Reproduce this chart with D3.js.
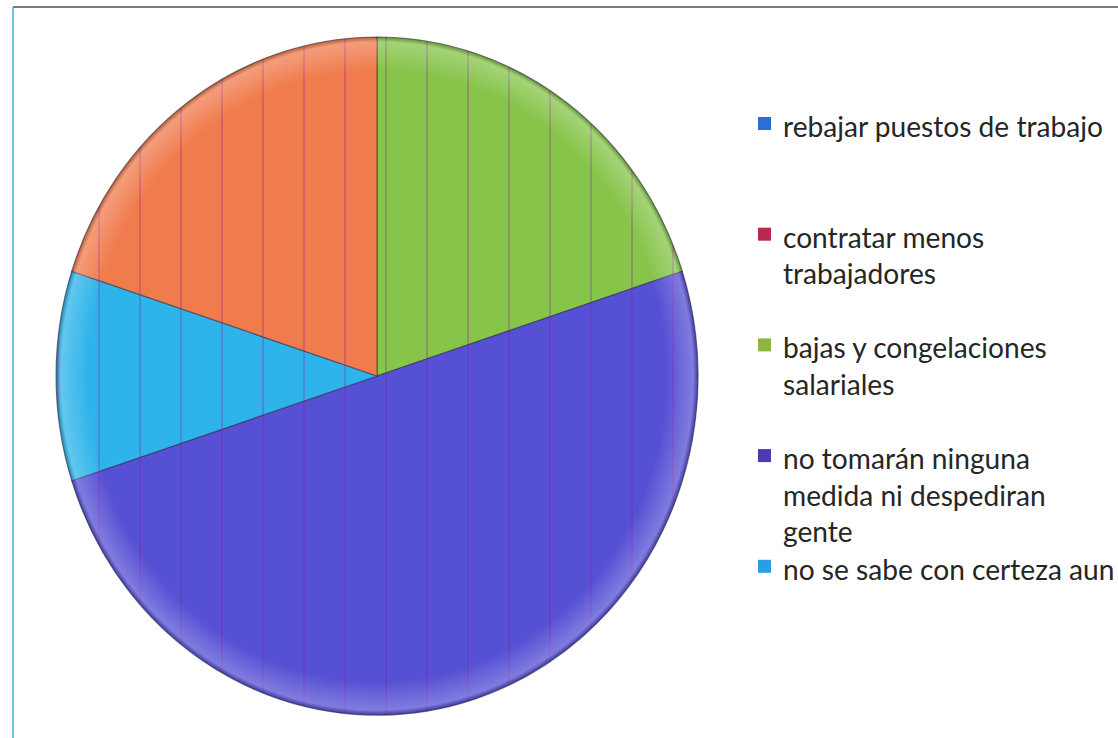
<!DOCTYPE html>
<html><head><meta charset="utf-8">
<script src="https://cdn.jsdelivr.net/npm/d3@7"></script>
<style>body{margin:0;background:#fff;overflow:hidden}</style>
</head><body>
<svg id="c" width="1118" height="738"></svg>
<script>
// ---- data ----
const categories = ["rebajar puestos de trabajo", "contratar menos trabajadores", "bajas y congelaciones salariales", "no tomarán ninguna medida ni despediran gente", "no se sabe con certeza aun", "(sin etiqueta)"];
const values = [0, 0, 20, 50, 10, 20];
const legendLines = [
  ["rebajar puestos de trabajo"],
  ["contratar menos", "trabajadores"],
  ["bajas y congelaciones", "salariales"],
  ["no tomarán ninguna", "medida ni despediran", "gente"],
  ["no se sabe con certeza aun"]
];
const sliceColors = ["#2f6fd2", "#c8324e", "#86c44a", "#5650d4", "#2eb4ea", "#f07c4e"];
const legendColors = ["#2a6ed6", "#b8284e", "#8cb63e", "#4a3cb0", "#2a9ee2"];

// ---- drawing ----
const svg = d3.select("#c");
const W = 1118, H = 738;
svg.append("rect").attr("width", W).attr("height", H).attr("fill", "#fff");

// frame (top + left visible)
svg.append("line").attr("x1", 13).attr("x2", W).attr("y1", 7).attr("y2", 7)
  .attr("stroke", "#4a4f66").attr("stroke-width", 1.5);
svg.append("line").attr("x1", 13).attr("x2", 13).attr("y1", 7).attr("y2", H)
  .attr("stroke", "#3fb2d8").attr("stroke-width", 1.5);

const cx = 377, cy = 376, ry = 339, rx = 321;
const pie = d3.pie().sort(null).value(d => d).startAngle(0).endAngle(2 * Math.PI);
const arcs = pie(values);
const arc = d3.arc().innerRadius(0).outerRadius(ry);

const defs = svg.append("defs");
defs.append("clipPath").attr("id", "pieclip")
  .append("ellipse").attr("cx", cx).attr("cy", cy).attr("rx", rx).attr("ry", ry);

const grad = defs.append("radialGradient").attr("id", "rim")
  .attr("cx", "50%").attr("cy", "50%").attr("r", "50%");
grad.append("stop").attr("offset", "0.9").attr("stop-color", "#fff").attr("stop-opacity", 0);
grad.append("stop").attr("offset", "0.985").attr("stop-color", "#fff").attr("stop-opacity", 0.25);
grad.append("stop").attr("offset", "1").attr("stop-color", "#000").attr("stop-opacity", 0.25);

const g = svg.append("g").attr("transform", `translate(${cx},${cy}) scale(${rx / ry},1)`);
g.selectAll("path.slice").data(arcs.filter(d => d.value > 0)).join("path")
  .attr("class", "slice")
  .attr("d", arc)
  .attr("fill", d => sliceColors[d.index])
  .attr("stroke", "rgba(40,40,60,0.55)")
  .attr("stroke-width", 1.2);

// scan-like vertical stripes
const stripes = svg.append("g").attr("clip-path", "url(#pieclip)");
stripes.selectAll("line").data(d3.range(345 - 41 * 8, cx + rx + 10, 41)).join("line")
  .attr("x1", d => d).attr("x2", d => d).attr("y1", cy - ry).attr("y2", cy + ry)
  .attr("stroke", "rgba(140,30,150,0.28)").attr("stroke-width", 2);
svg.append("ellipse").attr("cx", cx).attr("cy", cy).attr("rx", rx).attr("ry", ry)
  .attr("fill", "url(#rim)");

// legend
const fontFamily = "Lato, 'Open Sans', sans-serif";
const probe = svg.append("text").attr("font-family", fontFamily).attr("font-size", 24)
  .text(legendLines[0][0]);
const fs = 24 * 320 / probe.node().getComputedTextLength();
probe.remove();

const legX = 758, textX = 783, firstBase = 137, slot = 110.7, lineH = 36.5;
const leg = svg.append("g");
legendLines.forEach((lines, i) => {
  const base = firstBase + i * slot;
  leg.append("rect").attr("x", legX).attr("y", base - 20).attr("width", 13).attr("height", 13)
    .attr("fill", legendColors[i]);
  const t = leg.append("text").attr("font-family", fontFamily).attr("font-size", fs)
    .attr("fill", "#262626");
  lines.forEach((ln, j) => {
    t.append("tspan").attr("x", textX).attr("y", base + j * lineH).text(ln);
  });
});
</script>
</body></html>
